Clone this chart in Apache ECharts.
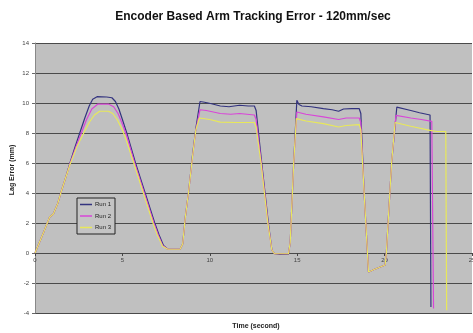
<!DOCTYPE html>
<html>
<head>
<meta charset="utf-8">
<script src="https://cdn.jsdelivr.net/npm/echarts@6/dist/echarts.min.js"></script>
<style>html,body{margin:0;padding:0;background:#fff;}#c{width:473px;height:333px;}</style>
</head>
<body>
<div id="c"></div>
<script>
const titleText = 'Encoder Based Arm Tracking Error - 120mm/sec';
const xTitle = 'Time (second)';
const yTitle = 'Lag Error (mm)';
const seriesNames = ['Run 1', 'Run 2', 'Run 3'];
const xTicks = [0, 5, 10, 15, 20, 25];
const yTicks = [-4, -2, 0, 2, 4, 6, 8, 10, 12, 14];

const run1 = [[0,0],[0.5,1.4],[0.84,2.4],[1.05,2.6],[1.3,3.3],[1.5,4.1],[1.75,5.0],[2.0,6.0],[2.3,7.1],[2.56,8.0],[2.85,9.0],[3.1,9.8],[3.3,10.25],[3.55,10.42],[4.1,10.4],[4.4,10.35],[4.6,10.1],[4.8,9.6],[5.0,8.9],[5.25,8.0],[5.75,6.0],[6.3,4.0],[6.85,2.0],[7.1,1.2],[7.35,0.5],[7.6,0.25],[8.3,0.25],[8.45,0.6],[8.6,2.4],[8.8,4.2],[9.0,6.4],[9.2,8.3],[9.44,10.1],[9.7,10.05],[10.1,9.95],[10.6,9.8],[11.1,9.75],[11.7,9.85],[12.2,9.8],[12.55,9.8],[12.65,9.5],[12.97,6.0],[13.35,2.0],[13.55,0.2],[13.7,-0.05],[14.0,-0.1],[14.5,-0.08],[14.6,0.7],[14.8,6.0],[14.98,10.18],[15.1,9.9],[15.27,9.8],[15.8,9.75],[16.5,9.63],[17.0,9.55],[17.37,9.45],[17.65,9.6],[18.1,9.62],[18.55,9.62],[18.64,9.3],[18.83,4.0],[19.08,-1.27],[19.4,-1.1],[19.75,-0.93],[20.03,-0.8],[20.1,0.0],[20.2,2.0],[20.4,6.0],[20.7,9.73],[21.5,9.5],[22.0,9.35],[22.6,9.2],[22.65,-3.6]];

const run2 = [[0,0],[0.5,1.4],[0.84,2.4],[1.05,2.6],[1.3,3.3],[1.5,4.1],[1.75,5.0],[2.0,5.95],[2.35,7.1],[2.65,8.0],[2.95,8.9],[3.25,9.6],[3.6,9.93],[4.2,9.93],[4.5,9.75],[4.75,9.3],[5.0,8.6],[5.25,7.8],[5.7,6.0],[6.25,4.0],[6.8,2.0],[7.05,1.2],[7.3,0.5],[7.6,0.25],[8.3,0.25],[8.45,0.6],[8.6,2.4],[8.8,4.2],[9.0,6.3],[9.2,8.2],[9.44,9.55],[9.8,9.5],[10.6,9.3],[11.2,9.25],[11.7,9.3],[12.55,9.2],[12.65,8.9],[12.95,6.0],[13.33,2.0],[13.55,0.2],[13.7,-0.05],[14.5,-0.05],[14.6,0.7],[14.8,6.0],[14.98,9.4],[15.5,9.25],[16.5,9.07],[17.37,8.9],[17.8,9.0],[18.55,9.0],[18.64,8.7],[18.83,4.0],[19.08,-1.27],[19.4,-1.1],[19.75,-0.93],[20.03,-0.8],[20.1,0.0],[20.2,2.0],[20.4,6.0],[20.65,9.18],[21.5,9.0],[22.1,8.9],[22.7,8.78],[22.8,-3.7]];

const run3 = [[0,0],[0.5,1.4],[0.84,2.4],[1.05,2.6],[1.3,3.3],[1.5,4.1],[1.75,5.0],[2.0,5.9],[2.4,7.1],[2.79,8.0],[3.1,8.7],[3.4,9.2],[3.7,9.45],[4.2,9.45],[4.45,9.3],[4.7,8.9],[5.0,8.2],[5.2,7.6],[5.65,6.0],[6.2,4.0],[6.75,2.0],[7.0,1.2],[7.3,0.45],[7.6,0.25],[8.3,0.25],[8.45,0.6],[8.6,2.4],[8.8,4.2],[9.0,6.3],[9.2,8.2],[9.4,9.0],[10.0,8.9],[10.6,8.73],[11.5,8.7],[12.55,8.7],[12.65,8.4],[12.93,6.0],[13.32,2.0],[13.55,0.2],[13.7,-0.05],[14.5,-0.05],[14.6,0.7],[14.8,6.0],[14.95,8.96],[15.5,8.8],[16.5,8.62],[17.37,8.4],[17.8,8.5],[18.55,8.56],[18.64,8.2],[18.83,4.0],[19.08,-1.27],[19.4,-1.1],[19.75,-0.93],[20.03,-0.8],[20.1,0.0],[20.2,2.0],[20.4,6.0],[20.6,8.7],[21.5,8.45],[22.6,8.18],[23.0,8.1],[23.5,8.1],[23.55,-3.82]];

const colors = ['#33337f', '#d846d8', '#e8e85a'];
const allRuns = [run1, run2, run3];

const chart = echarts.init(document.getElementById('c'), null, {renderer: 'canvas'});
const FONT = 'Liberation Sans, Arial, sans-serif';
// plot geometry: grid top 43, bottom at 313 -> 270px for 18 units; y=0 sits 4 units above bottom
const zeroOffset = -(270 * 4 / 18);
chart.setOption({
  animation: false,
  backgroundColor: '#ffffff',
  title: {
    text: titleText,
    left: 248, top: 6, textAlign: 'center',
    textStyle: {fontFamily: FONT, fontSize: 12, fontWeight: 'bold', color: '#111'}
  },
  grid: {left: 35, right: 1, top: 43, bottom: 20, show: true, backgroundColor: '#c0c0c0', borderWidth: 0,
         containLabel: false, outerBoundsMode: 'none'},
  legend: {
    orient: 'vertical', left: 77, top: 198,
    data: seriesNames,
    icon: 'rect',
    itemWidth: 12, itemHeight: 1.5, itemGap: 4.5,
    padding: [3, 4, 3, 3],
    backgroundColor: '#c4c4c4', borderColor: '#222', borderWidth: 1, borderRadius: 0,
    textStyle: {fontFamily: FONT, fontSize: 6, color: '#222', lineHeight: 7, padding: [0,0,0,-2]}
  },
  xAxis: {
    type: 'value', min: xTicks[0], max: xTicks[xTicks.length - 1], interval: 5,
    offset: zeroOffset,
    axisLine: {onZero: false, show: true, lineStyle: {color: '#4a4a4a', width: 1}},
    axisTick: {show: true, length: 3, lineStyle: {color: '#444'}},
    axisLabel: {fontFamily: FONT, fontSize: 6, color: '#444', margin: 4, hideOverlap: false},
    splitLine: {show: false}
  },
  yAxis: {
    type: 'value', min: yTicks[0], max: yTicks[yTicks.length - 1], interval: 2,
    axisLine: {show: true, lineStyle: {color: '#888', width: 1}},
    axisTick: {show: true, length: 3, lineStyle: {color: '#666'}},
    axisLabel: {fontFamily: FONT, fontSize: 6, color: '#444', margin: 6},
    splitLine: {show: true, lineStyle: {color: '#4a4a4a', width: 1}}
  },
  graphic: [
    {type: 'text', x: 12, y: 170, rotation: Math.PI / 2,
     style: {text: yTitle, fontFamily: FONT, fontSize: 7, fontWeight: 'bold', fill: '#222', textAlign: 'center', textVerticalAlign: 'middle'}},
    {type: 'text', x: 256, y: 326,
     style: {text: xTitle, fontFamily: FONT, fontSize: 7, fontWeight: 'bold', fill: '#222', textAlign: 'center', textVerticalAlign: 'middle'}}
  ],
  series: allRuns.map((d, i) => ({
    name: seriesNames[i], type: 'line', data: d, showSymbol: false, symbol: 'none',
    lineStyle: {color: colors[i], width: 1.2}, itemStyle: {color: colors[i]}
  }))
});
</script>
</body>
</html>
